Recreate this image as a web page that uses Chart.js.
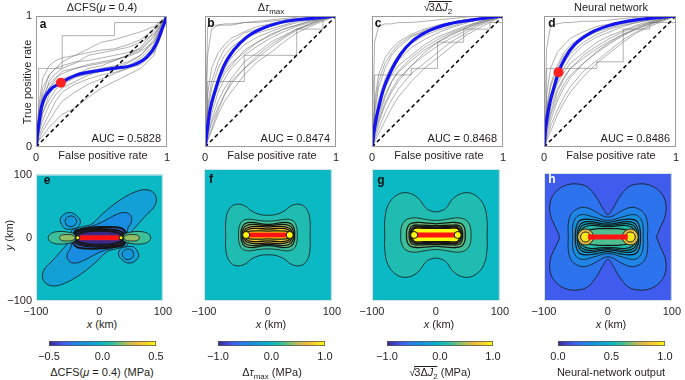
<!DOCTYPE html>
<html>
<head>
<meta charset="utf-8">
<script src="https://cdn.jsdelivr.net/npm/chart.js@4.4.0/dist/chart.umd.min.js"></script>
<style>
  body { margin: 0; width: 685px; height: 380px; background: #fff; position: relative; overflow: hidden;
         font-family: "Liberation Sans", Arial, sans-serif; color: #231f20; }
  .t { position: absolute; font-size: 11px; white-space: nowrap; transform: translate(-50%, -50%); line-height: 12px; }
  .r { transform: translate(-100%, -50%); }
  .v { transform: translate(-50%, -50%) rotate(-90deg); }
  .b { font-weight: bold; font-size: 12px; }
  sub { font-size: 8px; vertical-align: -3px; line-height: 0; }
  .ov { display: inline-block; border-top: 1px solid #231f20; line-height: 11px; margin-left: -1px; }
</style>
</head>
<body>
<script>
// ---------- ROC data (panels a-d) ----------
const fprGrid = [0, 0.02, 0.05, 0.1, 0.15, 0.2, 0.3, 0.4, 0.5, 0.6, 0.7, 0.8, 0.9, 1];

const blueAx = [0, .018, .043, .094, .19, .31, .46, .59, .74, .85, .92, .97, 1];
const blueAy = [0, .15, .31, .42, .49, .55, .58, .60, .625, .69, .79, .92, 1];
const blueBx = [0, .013, .038, .077, .14, .22, .32, .45, .62, .80, 1];
const blueBy = [0, .10, .28, .43, .61, .74, .84, .91, .96, .98, 1];
const blueCx = [0, .02, .046, .084, .15, .22, .31, .44, .59, .77, 1];
const blueCy = [0, .15, .28, .43, .59, .71, .81, .89, .94, .97, 1];
const blueDx = [0, .013, .043, .08, .11, .16, .23, .35, .5, .7, 1];
const blueDy = [0, .15, .33, .47, .57, .68, .78, .87, .93, .97, 1];
const dotA = [0.19, 0.49];
const dotD = [0.11, 0.57];
const aucLabels = ['AUC = 0.5828', 'AUC = 0.8474', 'AUC = 0.8468', 'AUC = 0.8486'];
// index of the coarse, blocky bootstrap curve in each panel
const blockyCurve = [9, 7, 7, 7];

const grayA = [
  [0,.15,.3,.45,.5,.52,.55,.58,.6,.62,.65,.7,.82,1],
  [0,.1,.2,.32,.4,.45,.5,.55,.58,.6,.62,.68,.78,1],
  [0,.2,.4,.55,.6,.62,.65,.66,.68,.7,.72,.75,.85,1],
  [0,.05,.12,.2,.28,.35,.42,.48,.52,.56,.6,.66,.76,1],
  [0,.3,.52,.62,.66,.68,.7,.72,.74,.75,.78,.82,.9,1],
  [0,.1,.25,.4,.48,.5,.55,.6,.62,.66,.7,.74,.84,1],
  [0,.08,.15,.25,.35,.42,.48,.52,.55,.57,.6,.63,.72,1],
  [0,.25,.45,.55,.6,.65,.7,.75,.8,.82,.85,.88,.92,1],
  [0,.12,.3,.45,.52,.58,.6,.62,.64,.66,.7,.76,.88,1],
  [0,.6,.6,.6,.6,.85,.85,.85,.85,.95,.95,.95,.95,1],
  [0,.05,.08,.15,.2,.25,.3,.38,.45,.5,.55,.6,.7,1],
  [0,.18,.35,.5,.56,.6,.64,.7,.72,.74,.76,.8,.86,1],
  [0,.22,.38,.48,.53,.56,.6,.63,.65,.67,.69,.73,.8,1],
  [0,.14,.26,.36,.44,.48,.53,.56,.58,.6,.64,.7,.8,1]
];
const grayB = [
  [0,.3,.5,.65,.75,.8,.87,.9,.93,.95,.97,.98,.99,1],
  [0,.1,.2,.35,.45,.52,.65,.72,.8,.85,.9,.93,.97,1],
  [0,.7,.9,.93,.93,.93,.95,.96,.97,.98,.99,1,1,1],
  [0,.15,.3,.5,.6,.68,.78,.84,.88,.92,.95,.97,.99,1],
  [0,.05,.12,.25,.35,.42,.55,.65,.72,.8,.87,.92,.96,1],
  [0,.4,.6,.72,.78,.83,.88,.92,.94,.96,.97,.98,.99,1],
  [0,.2,.35,.5,.58,.64,.72,.8,.85,.9,.93,.96,.98,1],
  [0,.5,.5,.5,.5,.5,.7,.7,.7,.7,.9,.9,1,1],
  [0,.08,.18,.3,.4,.5,.6,.7,.78,.84,.9,.94,.98,1],
  [0,.25,.45,.6,.7,.76,.83,.87,.9,.93,.96,.98,.99,1],
  [0,.12,.25,.42,.52,.6,.7,.77,.83,.88,.92,.95,.98,1],
  [0,.92,.93,.93,.94,.94,.95,.95,.96,.97,.98,.99,1,1],
  [0,.18,.32,.46,.56,.62,.74,.8,.86,.9,.93,.96,.98,1],
  [0,.06,.14,.28,.4,.48,.6,.68,.76,.83,.89,.94,.97,1]
];
const grayC = [
  [0,.25,.45,.6,.7,.76,.84,.89,.92,.95,.97,.98,.99,1],
  [0,.08,.18,.32,.42,.5,.62,.72,.8,.86,.9,.94,.97,1],
  [0,.8,.92,.94,.94,.95,.95,.96,.97,.98,.99,1,1,1],
  [0,.15,.3,.48,.58,.66,.76,.82,.87,.91,.94,.97,.99,1],
  [0,.04,.1,.2,.3,.38,.5,.6,.68,.76,.84,.9,.95,1],
  [0,.35,.55,.68,.75,.8,.86,.9,.93,.95,.97,.98,.99,1],
  [0,.18,.32,.46,.55,.62,.7,.78,.84,.88,.92,.95,.98,1],
  [0,.55,.55,.55,.55,.55,.6,.6,.8,.8,.9,.9,.95,1],
  [0,.1,.2,.34,.44,.52,.62,.7,.77,.83,.88,.93,.97,1],
  [0,.3,.5,.64,.72,.78,.85,.88,.91,.94,.96,.98,.99,1],
  [0,.12,.22,.38,.5,.58,.68,.76,.82,.87,.91,.95,.98,1],
  [0,.06,.14,.26,.36,.44,.56,.64,.72,.8,.86,.92,.96,1],
  [0,.2,.36,.52,.62,.7,.79,.85,.89,.92,.95,.97,.99,1],
  [0,.14,.26,.4,.5,.57,.66,.74,.8,.85,.9,.94,.97,1]
];
const grayD = [
  [0,.3,.48,.62,.72,.78,.85,.9,.93,.95,.97,.98,.99,1],
  [0,.1,.2,.35,.45,.53,.64,.73,.8,.86,.9,.94,.97,1],
  [0,.75,.93,.94,.95,.95,.96,.96,.97,.98,.99,1,1,1],
  [0,.18,.35,.5,.6,.68,.78,.84,.88,.92,.95,.97,.99,1],
  [0,.05,.12,.24,.34,.42,.54,.64,.72,.8,.87,.92,.96,1],
  [0,.4,.6,.72,.78,.83,.88,.92,.94,.96,.97,.98,.99,1],
  [0,.2,.34,.48,.57,.64,.72,.8,.85,.89,.93,.96,.98,1],
  [0,.6,.6,.6,.6,.6,.6,.65,.65,.9,.9,.95,.95,1],
  [0,.12,.24,.38,.48,.55,.64,.72,.79,.85,.9,.94,.97,1],
  [0,.28,.46,.6,.7,.76,.83,.88,.91,.94,.96,.98,.99,1],
  [0,.14,.26,.42,.52,.6,.7,.77,.83,.88,.92,.95,.98,1],
  [0,.07,.16,.28,.38,.46,.58,.66,.74,.82,.88,.93,.97,1],
  [0,.22,.4,.55,.64,.71,.8,.86,.9,.93,.95,.97,.99,1],
  [0,.15,.3,.44,.53,.6,.68,.75,.81,.86,.91,.95,.98,1]
];

// ---------- contour maps (panels e-h), km ----------
// e: central contours given as half loops (field is symmetric under a half turn)
const eLevels = [-0.1, -0.2, -0.3, -0.4, -0.5];
const eHalves = [
  [[-40,14],[-25,18],[-12,22],[5,38],[30,58],[55,72],[75,76],[88,68],[88,52],[72,34],[58,18],[50,8],[47,-4],[43,-13]],
  [[-39,12],[-22,16],[-5,21],[10,28],[25,36],[38,40],[48,37],[51,27],[45,15],[44,2],[40,-9]],
  [[-38,11],[-20,15],[0,17],[20,17],[35,15],[42,8],[43,0]],
  [[-36,9],[-20,13],[0,14],[20,13],[36,9],[40,0]],
  [[-34,6],[-20,10],[0,11],[20,10],[34,6],[37,0]]
];
// e: side lobes, each drawn once and once turned by a half turn
const eLobeLevels = [-0.1, -0.15, 0.1, 0.2];
const eLobes = [
  [[-58,18],[-62,28],[-56,37],[-46,40],[-36,35],[-30,26],[-34,17],[-44,14],[-53,14]],
  [[-52,20],[-54,28],[-48,34],[-40,33],[-36,26],[-40,19],[-47,18]],
  [[37,0],[40,6],[50,9],[62,10],[74,8],[80,3],[80,-3],[74,-8],[62,-10],[50,-9],[40,-6]],
  [[38,0],[42,4],[52,5],[60,4],[63,0],[60,-4],[52,-5],[42,-4]]
];
// f, g, h: one quadrant per contour (field is mirror symmetric in x and y)
const fLevels = [0.1, 0.2, 0.3, 0.4, 0.6, 0.8, 1.0];
const fQuads = [
  [[66,0],[66,20],[62,37],[52,46],[38,45],[25,36],[12,31],[0,30]],
  [[46,0],[45,12],[40,21],[30,24],[15,22],[0,21]],
  [[42,0],[41,10],[36,17],[25,19],[10,17],[0,16]],
  [[40,0],[39,8],[34,14],[22,16],[0,14]],
  [[38,0],[37,6],[32,11],[20,13],[0,12]],
  [[36,0],[35,5],[30,9],[18,10],[0,9]],
  [[35,0],[34,4],[28,6],[0,6]]
];
const gLevels = [0.1, 0.2, 0.3, 0.4, 0.6, 0.8, 1.0];
const gQuads = [
  [[80,0],[80,22],[75,45],[62,60],[45,64],[28,56],[15,40],[6,36],[0,35]],
  [[55,0],[54,12],[48,22],[35,26],[18,24],[0,22]],
  [[46,0],[45,10],[40,17],[28,19],[12,18],[0,17]],
  [[42,0],[41,8],[37,14],[24,15],[0,14]],
  [[40,0],[39,7],[35,12],[20,13],[0,12]],
  [[38.5,0],[38,7],[34,11.5],[18,11.5],[0,11.5]],
  [[37,0],[36.5,6],[33,10],[20,10],[0,10]]
];
const hLevels = [0.2, 0.26, 0.32, 0.38, 0.44, 0.5, 0.56, 0.62];
const hQuads = [
  [[76,0],[82,15],[90,35],[90,55],[82,70],[68,80],[50,83],[32,78],[18,62],[8,45],[0,35]],
  [[62,0],[62,20],[58,35],[48,44],[35,46],[20,40],[8,33],[0,31]],
  [[55,0],[55,17],[50,30],[40,35],[25,32],[0,26]],
  [[51,0],[50,14],[45,25],[34,28],[18,26],[0,23]],
  [[48,0],[47,12],[42,21],[31,24],[0,20]],
  [[46,0],[45,10],[40,18],[28,21],[0,18]],
  [[44,0],[43,8],[38,15],[26,18],[0,16]],
  [[40,0],[38,6],[30,11],[15,13],[0,13]]
];
const hTipX = [-35, 35];
const hTipLevels = [0.8, 0.95];
const faultX = [-31, 31];
const bgLevels = { e: 0, f: 0, g: 0, h: 0.14 };

// parula-like colour map
const parulaStops = [
  [0, 53,42,135], [0.08, 62,70,210], [0.14, 64,92,236], [0.22, 40,122,238], [0.32, 20,145,222],
  [0.40, 18,160,215], [0.46, 8,175,205], [0.50, 10,185,196], [0.58, 45,190,165], [0.66, 110,192,120],
  [0.74, 185,188,85], [0.82, 240,185,60], [0.90, 252,210,45], [1, 249,251,14]
];
function parula(t) {
  t = Math.max(0, Math.min(1, t));
  for (let i = 1; i < parulaStops.length; i++) {
    const a = parulaStops[i - 1], b = parulaStops[i];
    if (t <= b[0]) {
      const f = (t - a[0]) / (b[0] - a[0]);
      const c = [1, 2, 3].map(k => Math.round(a[k] + f * (b[k] - a[k])));
      return `rgb(${c[0]},${c[1]},${c[2]})`;
    }
  }
  return 'rgb(249,251,14)';
}

const FONT = { family: '"Liberation Sans", Arial, sans-serif', size: 11 };
const TXT = '#231f20';
const minus = v => (v < 0 ? '\u2212' : '') + Math.abs(v);

const framePlugin = {
  id: 'frame',
  beforeDatasetsDraw(chart, args, opts) {
    if (!opts.bg) return;
    const a = chart.chartArea, ctx = chart.ctx;
    ctx.save(); ctx.fillStyle = opts.bg; ctx.fillRect(a.left, a.top, a.width, a.height); ctx.restore();
  },
  afterDatasetsDraw(chart, args, opts) {
    const a = chart.chartArea, ctx = chart.ctx;
    ctx.save(); ctx.strokeStyle = opts.color || '#999'; ctx.lineWidth = 1;
    ctx.strokeRect(a.left + 0.5, a.top + 0.5, a.width - 1, a.height - 1); ctx.restore();
  }
};
Chart.register(framePlugin);

function makeCanvas(left, top, w, h) {
  const c = document.createElement('canvas');
  c.width = w; c.height = h;
  c.style.cssText = `position:absolute;left:${left}px;top:${top}px;width:${w}px;height:${h}px`;
  document.body.appendChild(c);
  return c;
}

function axis(min, max, step, showTicks, fit, fmt) {
  return {
    type: 'linear', min, max,
    grid: { display: false, drawTicks: false }, border: { display: false },
    ticks: { display: showTicks, stepSize: step, padding: 4, color: TXT, font: FONT, maxRotation: 0, callback: fmt },
    afterFit: fit
  };
}

// Chart.js paints dataset 0 on top, so lists are built bottom-first and reversed
function stackOrder(ds) { return ds.slice().reverse(); }

// ---------- ROC panels ----------
function rocPlot(idx, area, bx, by, grays, dot, showY) {
  const cv = makeCanvas(area.l - 36, 0, area.w + 44, area.t + area.h + 15);
  const ds = grays.map((g, i) => ({
    data: g.map((y, k) => ({ x: fprGrid[k], y })),
    borderColor: 'rgba(95,95,95,0.55)', borderWidth: 0.9,
    stepped: i === blockyCurve[idx] ? 'before' : false
  }));
  ds.push({ data: [{ x: 0, y: 0 }, { x: 1, y: 1 }], borderColor: '#000', borderWidth: 1.5, borderDash: [4, 3] });
  ds.push({ data: bx.map((x, i) => ({ x, y: by[i] })), borderColor: '#1414f0', borderWidth: 3.2, cubicInterpolationMode: 'monotone' });
  if (dot) ds.push({ data: [{ x: dot[0], y: dot[1] }], showLine: false, pointRadius: 5, backgroundColor: '#ff2020', borderWidth: 0 });
  new Chart(cv, {
    type: 'scatter',
    data: { datasets: stackOrder(ds.map(d => Object.assign({ showLine: true, pointRadius: 0 }, d))) },
    options: {
      responsive: false, animation: false, events: [],
      layout: { padding: { left: 0, right: 8, top: area.t, bottom: 0 } },
      plugins: { legend: { display: false }, tooltip: { enabled: false }, frame: { color: '#9a9a9a' } },
      scales: {
        x: axis(0, 1, 1, true, s => { s.height = 15; }),
        y: axis(0, 1, 1, showY, s => { s.width = 36; })
      }
    }
  });
}

// ---------- contour panels ----------
function quadLoop(q) {
  const pts = [];
  q.forEach(p => pts.push({ x: p[0], y: p[1] }));
  q.slice(0, -1).reverse().forEach(p => pts.push({ x: -p[0], y: p[1] }));
  q.slice(1).forEach(p => pts.push({ x: -p[0], y: -p[1] }));
  q.slice(1, -1).reverse().forEach(p => pts.push({ x: p[0], y: -p[1] }));
  pts.push(pts[0]);
  return pts;
}
function halfTurnLoop(h) {
  const pts = h.map(p => ({ x: p[0], y: p[1] })).concat(h.map(p => ({ x: -p[0], y: -p[1] })));
  pts.push(pts[0]);
  return pts;
}
function closedLoop(l, sign) {
  const pts = l.map(p => ({ x: sign * p[0], y: sign * p[1] }));
  pts.push(pts[0]);
  return pts;
}
function contourDs(pts, level, lo, hi, bw) {
  return {
    data: pts, showLine: true, fill: 'shape', tension: 0.4, pointRadius: 0,
    backgroundColor: parula((level - lo) / (hi - lo)), borderColor: '#151515', borderWidth: bw
  };
}
function faultDs(tipColor, tipR) {
  return [
    { data: faultX.map(x => ({ x, y: 0 })), showLine: true, borderColor: '#ff1414', borderWidth: 5, pointRadius: 0, borderCapStyle: 'butt' },
    { data: faultX.map(x => ({ x: x * 1.1, y: 0 })), showLine: false, pointRadius: tipR, backgroundColor: tipColor, borderColor: '#111', borderWidth: tipR ? 1 : 0 }
  ];
}
function mapPlot(area, showY, bg, ds) {
  const cv = makeCanvas(area.l - 36, 164, area.w + 44, 5 + area.h + 16);
  new Chart(cv, {
    type: 'scatter',
    data: { datasets: stackOrder(ds) },
    options: {
      responsive: false, animation: false, events: [],
      layout: { padding: { left: 0, right: 8, top: 5, bottom: 0 } },
      plugins: { legend: { display: false }, tooltip: { enabled: false }, frame: { color: '#d8e4e6', bg } },
      scales: {
        x: axis(-100, 100, 100, true, s => { s.height = 16; }, minus),
        y: axis(-100, 100, 100, showY, s => { s.width = 36; }, minus)
      }
    }
  });
}

// ---------- colour bars ----------
function colorbar(l, w, min, max, step) {
  const cv = makeCanvas(l - 20, 336, w + 40, 26);
  new Chart(cv, {
    type: 'bar',
    data: { labels: [''], datasets: [{
      data: [[min, max]], borderColor: '#555', borderWidth: 1, borderSkipped: false,
      barPercentage: 1, categoryPercentage: 1,
      backgroundColor: ctx => {
        const a = ctx.chart.chartArea;
        if (!a) return '#888';
        const g = ctx.chart.ctx.createLinearGradient(a.left, 0, a.right, 0);
        parulaStops.forEach(s => g.addColorStop(s[0], `rgb(${s[1]},${s[2]},${s[3]})`));
        return g;
      }
    }] },
    options: {
      indexAxis: 'y', responsive: false, animation: false, events: [],
      layout: { padding: { left: 20, right: 20, top: 5, bottom: 0 } },
      plugins: { legend: { display: false }, tooltip: { enabled: false }, frame: { color: 'rgba(0,0,0,0)' } },
      scales: {
        x: axis(min, max, step, true, s => { s.height = 16; },
              v => (v < 0 ? '\u2212' : '') + Math.abs(v).toFixed(1)),
        y: { display: false }
      }
    }
  });
}

const topAreas = [{ l: 36, w: 131 }, { l: 205, w: 131 }, { l: 372, w: 131 }, { l: 544, w: 132 }]
  .map(a => Object.assign({ t: 16, h: 131 }, a));
const midAreas = [{ l: 36, w: 132 }, { l: 204, w: 133 }, { l: 372, w: 133 }, { l: 544, w: 133 }]
  .map(a => Object.assign({ t: 169, h: 132 }, a));

rocPlot(0, topAreas[0], blueAx, blueAy, grayA, dotA, true);
rocPlot(1, topAreas[1], blueBx, blueBy, grayB, null, false);
rocPlot(2, topAreas[2], blueCx, blueCy, grayC, null, false);
rocPlot(3, topAreas[3], blueDx, blueDy, grayD, dotD, false);

// e
const eDs = [];
eHalves.forEach((h, i) => eDs.push(contourDs(halfTurnLoop(h), eLevels[i], -0.5, 0.5, i >= 2 ? 2 : 0.8)));
eLobes.forEach((l, i) => {
  eDs.push(contourDs(closedLoop(l, 1), eLobeLevels[i], -0.5, 0.5, 0.8));
  eDs.push(contourDs(closedLoop(l, -1), eLobeLevels[i], -0.5, 0.5, 0.8));
});
mapPlot(midAreas[0], true, parula(0.5 + bgLevels.e), eDs.concat(faultDs('#f5f50a', 2)));

// f, g
const fDs = fQuads.map((q, i) => contourDs(quadLoop(q), fLevels[i], -1, 1, i >= 2 ? 1.3 : 0.8));
mapPlot(midAreas[1], false, parula(0.5 + bgLevels.f / 2), fDs.concat(faultDs('#ffff10', 3.5)));
const gDs = gQuads.map((q, i) => contourDs(quadLoop(q), gLevels[i], -1, 1, i >= 2 ? 1.3 : 0.8));
mapPlot(midAreas[2], false, parula(0.5 + bgLevels.g / 2), gDs.concat(faultDs('#ffff10', 3.5)));

// h
const hDs = hQuads.map((q, i) => contourDs(quadLoop(q), hLevels[i], 0, 1, i >= 3 ? 1.2 : 0.8));
hTipLevels.forEach((lv, i) => hDs.push({
  data: hTipX.map(x => ({ x, y: 0 })), showLine: false, pointRadius: i === 0 ? 8 : 5,
  backgroundColor: parula(lv), borderColor: '#222', borderWidth: 1
}));
mapPlot(midAreas[3], false, parula(bgLevels.h), hDs.concat(faultDs('#ff1414', 0)));

colorbar(49, 107, -0.5, 0.5, 0.5);
colorbar(218, 107, -1, 1, 1);
colorbar(387, 106, -1, 1, 1);
colorbar(558, 107, 0, 1, 0.5);

// ---------- text ----------
const labels = [
  [102, 7, 'ΔCFS(<i>μ</i> = 0.4)'], [271, 7, 'Δ<i>τ</i><sub>max</sub>'],
  [438, 7, '√<span class="ov">3Δ<i>J</i><sub>2</sub></span>'], [611, 7, 'Neural network'],
  [103, 155, 'False positive rate'], [272, 155, 'False positive rate'],
  [439, 155, 'False positive rate'], [611, 155, 'False positive rate'],
  [102, 324, '<i>x</i> (km)'], [271, 324, '<i>x</i> (km)'], [439, 324, '<i>x</i> (km)'], [611, 324, '<i>x</i> (km)'],
  [102, 372, 'ΔCFS(<i>μ</i> = 0.4) (MPa)'], [272, 372, 'Δ<i>τ</i><sub>max</sub> (MPa)'],
  [440, 372, '√<span class="ov">3Δ<i>J</i><sub>2</sub></span> (MPa)'], [611, 372, 'Neural-network output']
];
let html = labels.map(l => `<div class="t" style="left:${l[0]}px;top:${l[1]}px">${l[2]}</div>`).join('');
html += `<div class="t v" style="left:27px;top:82px">True positive rate</div>`;
html += `<div class="t v" style="left:9px;top:235px"><i>y</i> (km)</div>`;
topAreas.forEach((a, i) => {
  html += `<div class="t r" style="left:${a.l + a.w - 6}px;top:138px">${aucLabels[i]}</div>`;
});
const letters = [['a', 43, 24], ['b', 211, 23], ['c', 378, 23], ['d', 552, 23],
                 ['e', 47, 180], ['f', 211, 179], ['g', 381, 180], ['h', 552, 179]];
letters.forEach(l => {
  html += `<div class="t b" style="left:${l[1]}px;top:${l[2]}px;color:${l[0] === 'h' ? '#fff' : '#111'}">${l[0]}</div>`;
});
document.body.insertAdjacentHTML('beforeend', html);
</script>
</body>
</html>
